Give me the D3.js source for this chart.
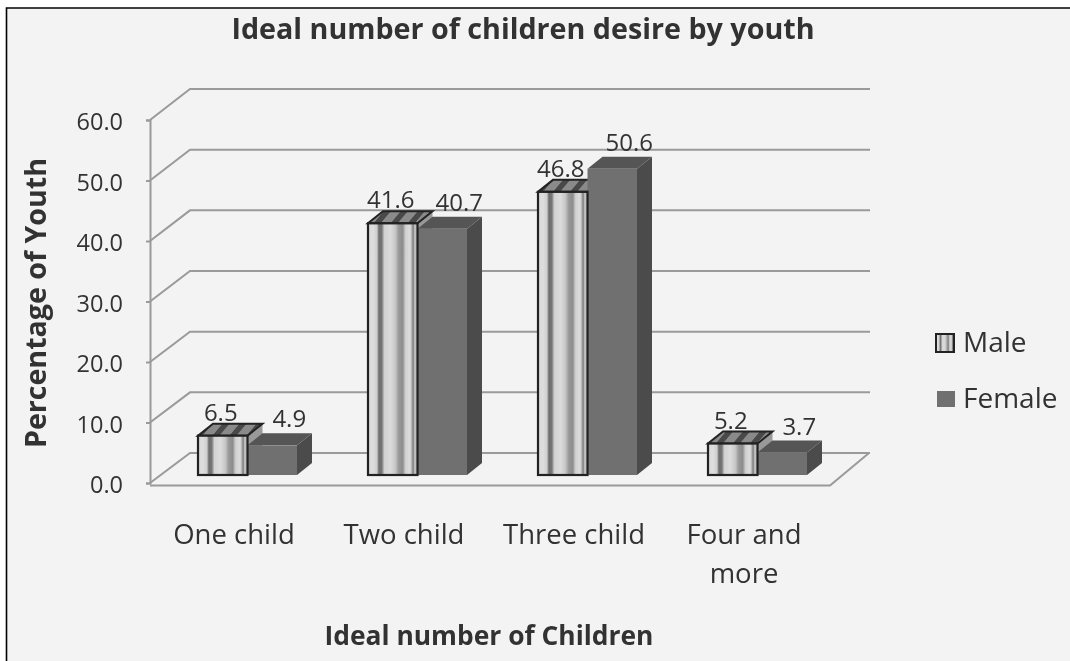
<!DOCTYPE html>
<html><head><meta charset="utf-8">
<script src="https://cdn.jsdelivr.net/npm/d3@7/dist/d3.min.js"></script>
<style>html,body{margin:0;padding:0;background:#fff}svg{display:block}text{font-family:"Open Sans",Lato,sans-serif;fill:#333}</style>
</head><body><div id="c"></div>
<script>
const categories=["One child","Two child","Three child","Four and more"];
const categoryLines=[["One child"],["Two child"],["Three child"],["Four and","more"]];
const seriesNames=["Male","Female"];
const male=[6.5,41.6,46.8,5.2];
const female=[4.9,40.7,50.6,3.7];
const yTicks=[0,10,20,30,40,50,60];
const W=1070,H=661;
const svg=d3.select("#c").append("svg").attr("width",W).attr("height",H);
const defs=svg.append("defs");
const stripe=[[0,"#d8d8d8"],[.1,"#dedede"],[.18,"#cfcfcf"],[.22,"#6e6e6e"],[.28,"#777"],[.33,"#d2d2d2"],[.45,"#dcdcdc"],[.55,"#c8c8c8"],[.62,"#999"],[.7,"#8c8c8c"],[.76,"#d0d0d0"],[.85,"#dcdcdc"],[.89,"#aaa"],[.91,"#777"],[.94,"#bbb"],[1,"#c8c8c8"]];
const g=defs.append("linearGradient").attr("id","stripe");
stripe.forEach(s=>g.append("stop").attr("offset",s[0]).attr("stop-color",s[1]));
const tp=defs.append("pattern").attr("id","topstripe").attr("patternUnits","userSpaceOnUse").attr("width",17).attr("height",12).attr("patternTransform","skewX(-40)");
tp.append("rect").attr("width",17).attr("height",12).attr("fill","#8a8a8a");
tp.append("rect").attr("width",7).attr("height",12).attr("fill","#4a4a4a");
defs.append("filter").attr("id","soft").attr("x",0).attr("y",0).attr("width",1).attr("height",1).append("feGaussianBlur").attr("stdDeviation",0.6);

const root=svg.append("g").attr("filter","url(#soft)");
root.append("rect").attr("x",0).attr("y",0).attr("width",W).attr("height",H).attr("fill","#fff");
root.append("rect").attr("x",7).attr("y",8).attr("width",W-7).attr("height",H-8).attr("fill","#f3f3f3");
root.append("path").attr("d",`M6.5,${H}V8H${W}`).attr("fill","none").attr("stroke","#000").attr("stroke-width",1.6);

const x=d3.scaleBand().domain(categories).range([150,830]);
const yAxisS=d3.scaleLinear().domain([0,60]).range([483,120]);
const yBack=d3.scaleLinear().domain([0,60]).range([453,89]);
const yBar=d3.scaleLinear().domain([0,60]).range([475,112]);
const dxWall=40,grid="#9a9a9a";
yTicks.forEach(t=>{
  root.append("path").attr("d",`M${x.range()[0]},${yAxisS(t)}L${x.range()[0]+dxWall},${yBack(t)}H870`)
    .attr("fill","none").attr("stroke",grid).attr("stroke-width",2);
});
root.append("path").attr("d",`M150,485.5H830L869,453`).attr("fill","none").attr("stroke",grid).attr("stroke-width",2);
const ax=d3.axisLeft(yAxisS).tickValues(yTicks).tickFormat(d3.format(".1f")).tickSize(4).tickPadding(23);
const ag=root.append("g").attr("transform","translate(150,0)").call(ax);
ag.select(".domain").attr("stroke",grid).attr("stroke-width",2);
ag.selectAll("line").attr("stroke",grid).attr("stroke-width",2);
ag.selectAll("text").style("font-size","23.5px").attr("fill","#333").attr("dy","0.42em");

const barW=49.5,dx=15,dy=-12,offset=48;
function maleBack(v,x0){
  const top=yBar(v),base=yBar(0);
  root.append("path").attr("d",`M${x0+barW},${base}V${top}l${dx},${dy}V${base+dy}Z`).attr("fill","#999");
  root.append("path").attr("d",`M${x0},${top}h${barW}l${dx},${dy}h${-barW}Z`)
    .attr("fill","url(#topstripe)").attr("stroke","#222").attr("stroke-width",2);
}
function femaleBar(v,x0){
  const top=yBar(v),base=yBar(0);
  root.append("path").attr("d",`M${x0+barW},${base}V${top}l${dx},${dy}V${base+dy}Z`).attr("fill","#4c4c4c");
  root.append("path").attr("d",`M${x0},${top}h${barW}l${dx},${dy}h${-barW}Z`).attr("fill","#555");
  root.append("rect").attr("x",x0).attr("y",top).attr("width",barW).attr("height",base-top).attr("fill","#707070");
}
function maleFront(v,x0){
  const top=yBar(v),base=yBar(0);
  root.append("rect").attr("x",x0).attr("y",top).attr("width",barW).attr("height",base-top)
    .attr("fill","url(#stripe)").attr("stroke","#222").attr("stroke-width",2.2);
}
categories.forEach((c,i)=>{
  const x0=x(c)+offset;
  maleBack(male[i],x0);
  femaleBar(female[i],x0+barW);
  maleFront(male[i],x0);
  root.append("text").attr("x",x0+barW/2-2).attr("y",yBar(male[i])+dy-3).attr("text-anchor","middle").style("font-size","24px").text(male[i].toFixed(1));
  root.append("text").attr("x",x0+barW*1.5+17).attr("y",yBar(female[i])+dy-6).attr("text-anchor","middle").style("font-size","24px").text(female[i].toFixed(1));
  categoryLines[i].forEach((l,k)=>root.append("text").attr("x",x(c)+x.bandwidth()/2-1).attr("y",544+k*39).attr("text-anchor","middle").style("font-size","27.5px").text(l));
});
root.append("text").attr("x",523).attr("y",39).attr("text-anchor","middle").style("font-size","28.7px").style("font-weight","700").text("Ideal number of children desire by youth");
root.append("text").attr("x",489).attr("y",645).attr("text-anchor","middle").style("font-size","26.4px").style("font-weight","700").text("Ideal number of Children");
root.append("text").attr("transform","translate(46,303) rotate(-90)").attr("text-anchor","middle").style("font-size","28.6px").style("font-weight","700").text("Percentage of Youth");
const ly=[343,399];
root.append("rect").attr("x",936).attr("y",ly[0]-9).attr("width",18).attr("height",18).attr("fill","url(#stripe)").attr("stroke","#222").attr("stroke-width",2);
root.append("rect").attr("x",937).attr("y",ly[1]-8).attr("width",18).attr("height",16).attr("fill","#707070");
seriesNames.forEach((n,i)=>root.append("text").attr("x",963).attr("y",ly[i]+9).style("font-size","28px").text(n));
</script></body></html>
